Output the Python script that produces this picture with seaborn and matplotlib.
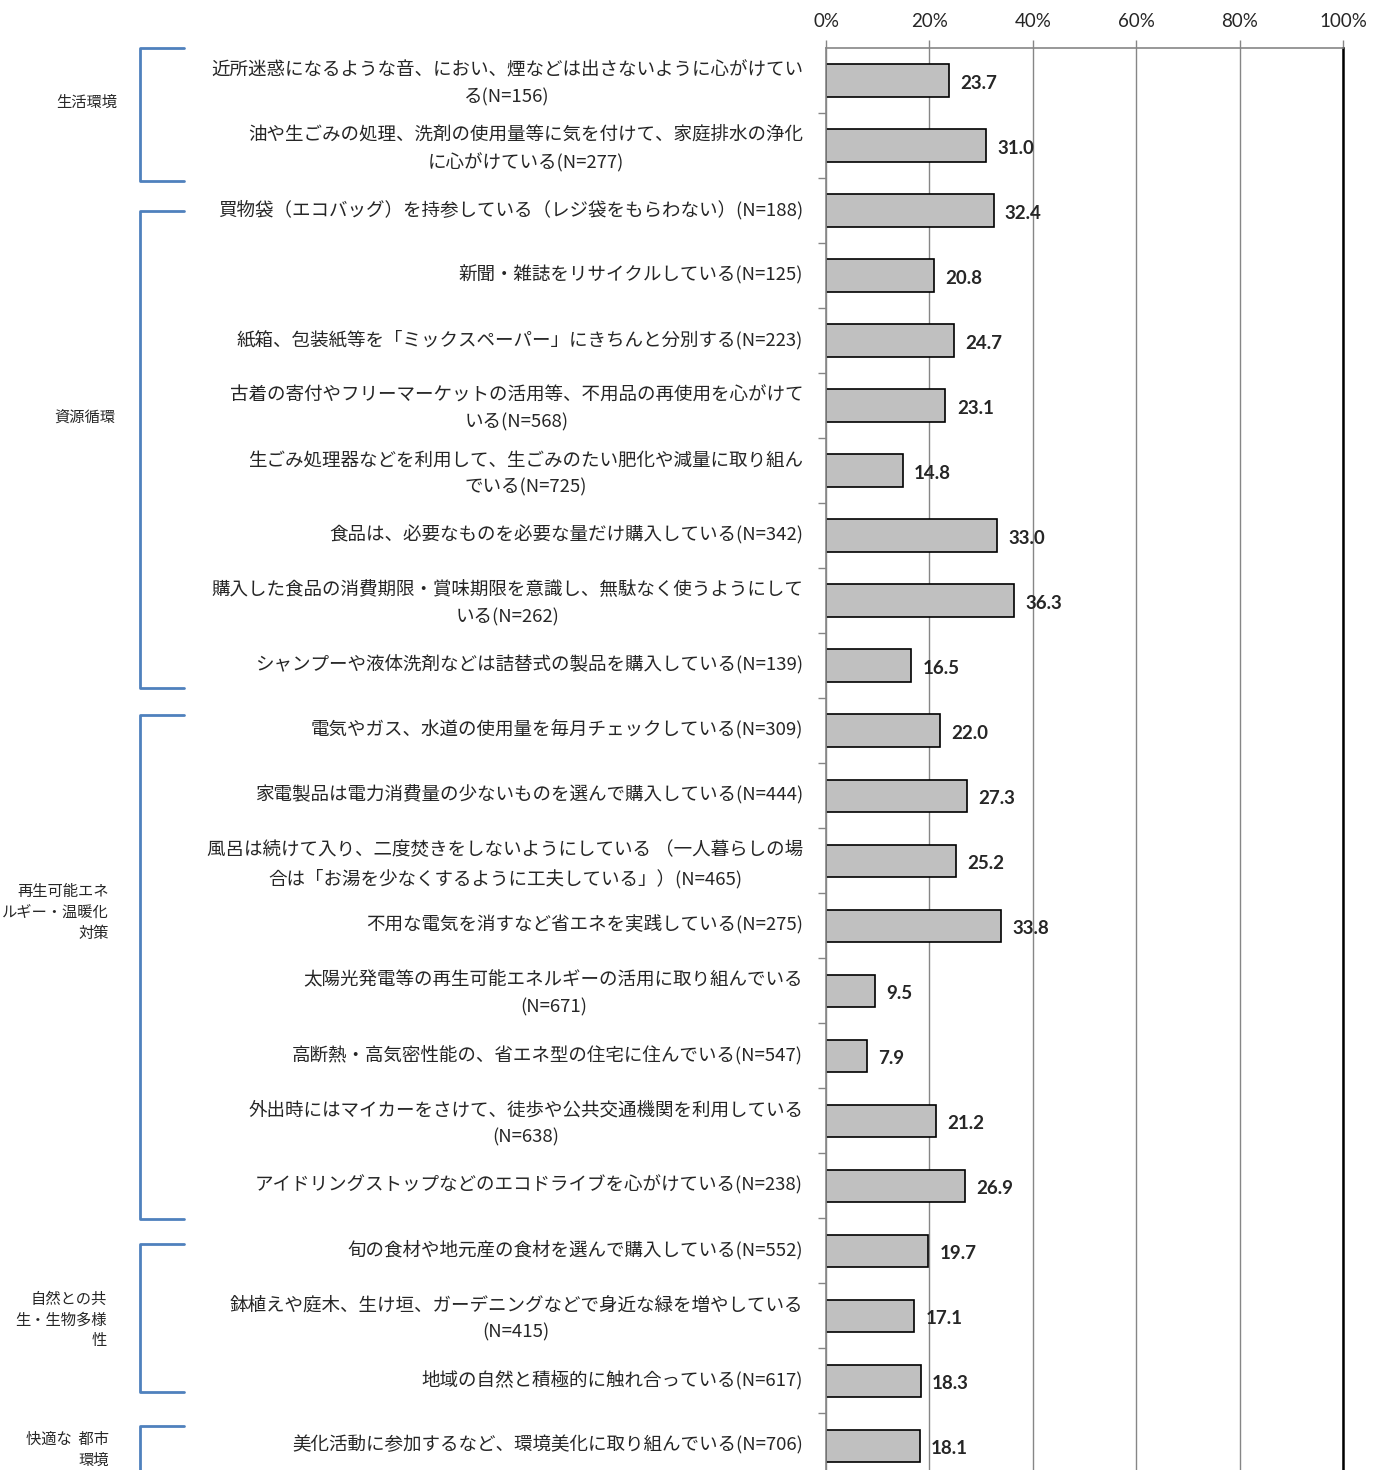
import matplotlib
matplotlib.use("Agg")
import matplotlib.pyplot as plt
import matplotlib.transforms as mtransforms
import seaborn as sns
import pandas as pd
import numpy as np

items = [
    "近所迷惑になるような音、におい、煙などは出さないように心がけてい\nる(N=156)",
    "油や生ごみの処理、洗剤の使用量等に気を付けて、家庭排水の浄化\nに心がけている(N=277)",
    "買物袋（エコバッグ）を持参している（レジ袋をもらわない）(N=188)",
    "新聞・雑誌をリサイクルしている(N=125)",
    "紙箱、包装紙等を「ミックスペーパー」にきちんと分別する(N=223)",
    "古着の寄付やフリーマーケットの活用等、不用品の再使用を心がけて\nいる(N=568)",
    "生ごみ処理器などを利用して、生ごみのたい肥化や減量に取り組ん\nでいる(N=725)",
    "食品は、必要なものを必要な量だけ購入している(N=342)",
    "購入した食品の消費期限・賞味期限を意識し、無駄なく使うようにして\nいる(N=262)",
    "シャンプーや液体洗剤などは詰替式の製品を購入している(N=139)",
    "電気やガス、水道の使用量を毎月チェックしている(N=309)",
    "家電製品は電力消費量の少ないものを選んで購入している(N=444)",
    "風呂は続けて入り、二度焚きをしないようにしている （一人暮らしの場\n合は「お湯を少なくするように工夫している」）(N=465)",
    "不用な電気を消すなど省エネを実践している(N=275)",
    "太陽光発電等の再生可能エネルギーの活用に取り組んでいる\n(N=671)",
    "高断熱・高気密性能の、省エネ型の住宅に住んでいる(N=547)",
    "外出時にはマイカーをさけて、徒歩や公共交通機関を利用している\n(N=638)",
    "アイドリングストップなどのエコドライブを心がけている(N=238)",
    "旬の食材や地元産の食材を選んで購入している(N=552)",
    "鉢植えや庭木、生け垣、ガーデニングなどで身近な緑を増やしている\n(N=415)",
    "地域の自然と積極的に触れ合っている(N=617)",
    "美化活動に参加するなど、環境美化に取り組んでいる(N=706)",
]
values = [23.7, 31.0, 32.4, 20.8, 24.7, 23.1, 14.8, 33.0, 36.3, 16.5,
          22.0, 27.3, 25.2, 33.8, 9.5, 7.9, 21.2, 26.9,
          19.7, 17.1, 18.3, 18.1]

group_names = ["生活環境", "資源循環", "再生可能エネ\nルギー・温暖化\n対策",
               "自然との共\n生・生物多様\n性", "快適な  都市\n環境"]
# bracket extents (in category-index units) and label anchor rows
group_spans = [(-0.5, 1.54), (2.01, 9.35), (9.76, 17.51), (17.89, 20.17), (20.69, 21.6)]
group_label_rows = [0.34, 5.18, 12.8, 19.06, 21.06]

x_ticks = [0, 20, 40, 60, 80, 100]
x_ticklabels = ["0%", "20%", "40%", "60%", "80%", "100%"]

sns.set_style("white")
plt.rcParams["font.family"] = ["Noto Sans CJK JP", "DejaVu Sans"]

W, H = 1384, 1470
fig = plt.figure(figsize=(W / 100, H / 100), dpi=100)
ax = fig.add_axes([826 / W, 1 - 1478.5 / H, (1343 - 826) / W, (1478.5 - 48) / H])

df = pd.DataFrame({"item": items, "value": values})
sns.barplot(data=df, x="value", y="item", orient="h", color="#c0c0c0",
            edgecolor="black", linewidth=1.2, width=0.5, saturation=1, ax=ax)

n = len(items)
ax.set_xlim(0, 100)
ax.set_ylim(n - 0.5, -0.5)
ax.set_xlabel("")
ax.set_ylabel("")

# top percentage axis
ax.xaxis.tick_top()
ax.set_xticks(x_ticks)
ax.set_xticklabels(x_ticklabels, fontsize=13.5, family=["Lato", "DejaVu Sans"])
ax.tick_params(axis="x", which="major", length=6, width=1, color="#868686",
               direction="out", pad=7)
ax.grid(axis="x", color="#868686", linewidth=1)
ax.set_axisbelow(True)

# category labels on the left
ax.tick_params(axis="y", which="major", length=0, pad=16.5, labelsize=13.35)
lift = mtransforms.ScaledTranslation(0, 3 / 100, fig.dpi_scale_trans)
for lbl in ax.get_yticklabels():
    lbl.set_multialignment("center")
    lbl.set_linespacing(1.62)
    lbl.set_transform(lbl.get_transform() + lift)
ax.set_yticks(np.arange(n - 1) + 0.5, minor=True)
ax.tick_params(axis="y", which="minor", length=6, width=1, color="#868686",
               direction="out", left=True)

for s in ["top", "left"]:
    ax.spines[s].set_color("#868686")
    ax.spines[s].set_linewidth(1.2)
ax.spines["right"].set_color("black")
ax.spines["right"].set_linewidth(1.8)
ax.spines["bottom"].set_visible(False)

# value labels
for i, v in enumerate(values):
    ax.text(v + 2.2, i + 0.04, f"{v:.1f}", va="center", ha="left",
            fontsize=13.5, fontweight="bold", family=["Lato", "DejaVu Sans"])

# group brackets and names
trans = mtransforms.blended_transform_factory(fig.transFigure, ax.transData)
bx0, bx1 = 140 / W, 184 / W
label_right = [117, 115, 109, 107, 109]
for (y0, y1), name, row, xr in zip(group_spans, group_names, group_label_rows, label_right):
    ax.plot([bx1, bx0, bx0, bx1], [y0, y0, y1, y1], color="#4f81bd",
            linewidth=2, transform=trans, clip_on=False)
    ax.text(xr / W, row, name, transform=trans, ha="right", va="center",
            multialignment="right", fontsize=11, linespacing=1.3)

fig.savefig("out.png", dpi=100)
